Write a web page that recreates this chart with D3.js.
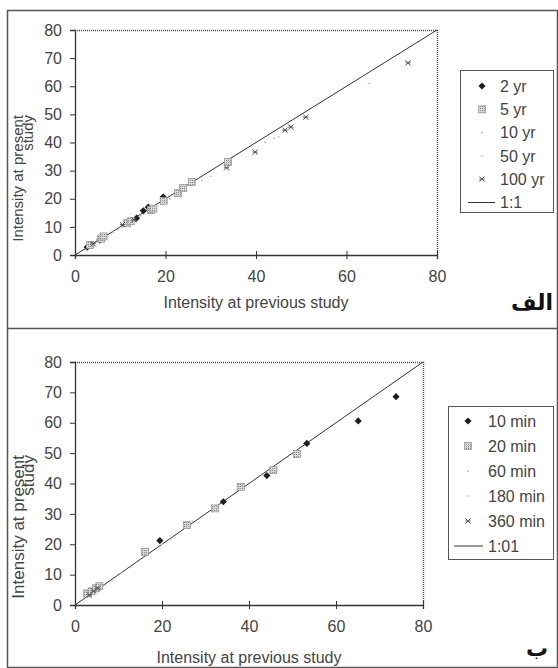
<!DOCTYPE html>
<html>
<head>
<meta charset="utf-8">
<script src="https://cdn.jsdelivr.net/npm/d3@7"></script>
<style>
  body { margin: 0; background: #fff; }
  svg { display: block; font-family: "Liberation Sans", Arial, sans-serif; }
</style>
</head>
<body>
<div id="chart"></div>
<script>
// values
const xTicks = [0, 20, 40, 60, 80];
const yTicks = [0, 10, 20, 30, 40, 50, 60, 70, 80];

// panel a (return periods)
const seriesA = ["2 yr", "5 yr", "10 yr", "50 yr", "100 yr"];
const yr2 = [[2.7, 2.8], [5.5, 5.3], [13.6, 13.1], [15.1, 15.7], [16.2, 17], [19.5, 20.6]];
const yr5 = [[3.3, 3.6], [5.8, 5.8], [6.3, 6.6], [11.5, 11.3], [12.3, 12], [16.8, 16], [17.3, 16.5],
             [19.6, 19.2], [22.8, 22], [23.9, 23.8], [25.8, 26], [33.8, 33.1]];
const yr10 = [[8.5, 8.2], [10.5, 10], [14.5, 14], [18, 17.5], [21, 20], [28, 26.5], [42, 40], [44, 41.5]];
const yr50 = [[9.5, 9], [20, 18], [30, 28], [45, 42], [65, 61]];
const yr100 = [[4, 4], [10.5, 10.8], [13, 12.5], [33.5, 31], [39.8, 36.6], [46.4, 44.4],
               [47.7, 45.5], [51, 49], [73.6, 68.3]];

// panel b (durations)
const seriesB = ["10 min", "20 min", "60 min", "180 min", "360 min"];
const min10 = [[19.5, 21.2], [34.1, 34], [44.1, 42.6], [53.3, 53.2], [65.1, 60.6], [73.8, 68.6]];
const min20 = [[2.8, 3.8], [3.8, 4.5], [4.8, 5.5], [5.6, 6.2], [16.1, 17.5], [25.7, 26.3],
               [32.2, 31.8], [38.1, 38.9], [45.6, 44.4], [51, 49.7]];
const min60 = [[7, 6.5], [10.7, 10.5], [20, 20], [27, 27.5]];
const min180 = [[8.5, 8], [13, 12.5], [22, 21.5]];
const min360 = [[3.3, 3.3], [4.3, 4.6], [5.2, 5.6]];

const W = 558, H = 668;
const svg = d3.select("#chart").append("svg").attr("width", W).attr("height", H);

// hatch for the grey square markers
const defs = svg.append("defs");
const pat = defs.append("pattern").attr("id", "hatch")
  .attr("width", 2).attr("height", 2).attr("patternUnits", "userSpaceOnUse");
pat.append("rect").attr("width", 2).attr("height", 2).attr("fill", "#d6d6d6");
pat.append("rect").attr("width", 1).attr("height", 1).attr("fill", "#8a8a8a");

// outer frame of the two cells
svg.append("rect").attr("x", 7.5).attr("y", 10.5).attr("width", 550).attr("height", 657)
  .attr("fill", "none").attr("stroke", "#555").attr("stroke-width", 1.5);
svg.append("line").attr("x1", 7).attr("x2", 558).attr("y1", 328.5).attr("y2", 328.5)
  .attr("stroke", "#555").attr("stroke-width", 1.5);

const styles = ["diamond", "square", "dot", "dash", "times"];

function drawMarker(g, kind, x, y) {
  if (kind === "diamond") {
    const s = 3.6;
    g.append("path").attr("d", `M${x},${y - s}L${x + s},${y}L${x},${y + s}L${x - s},${y}Z`)
      .attr("fill", "#1e1e1e");
  } else if (kind === "square") {
    g.append("rect").attr("x", x - 3.5).attr("y", y - 3.5).attr("width", 7).attr("height", 7)
      .attr("fill", "url(#hatch)").attr("stroke", "#9a9a9a").attr("stroke-width", 0.8);
  } else if (kind === "dot") {
    g.append("circle").attr("cx", x).attr("cy", y).attr("r", 1).attr("fill", "#bdbdbd");
  } else if (kind === "dash") {
    g.append("line").attr("x1", x - 1.5).attr("x2", x + 1.5).attr("y1", y).attr("y2", y)
      .attr("stroke", "#c4c4c4").attr("stroke-width", 1);
  } else {
    const s = 2.6;
    g.append("path")
      .attr("d", `M${x - s},${y - s}L${x + s},${y + s}M${x - s},${y + s}L${x + s},${y - s}M${x - s},${y}L${x + s},${y}`)
      .attr("stroke", "#555").attr("stroke-width", 1).attr("fill", "none");
  }
}

function panel(cfg) {
  const x = d3.scaleLinear().domain([0, 80]).range([cfg.x0, cfg.x1]);
  const y = d3.scaleLinear().domain([0, 80]).range([cfg.y0, cfg.y1]);
  const g = svg.append("g");

  // plot area border (dotted)
  g.append("path")
    .attr("d", `M${x(0)},${y(80) + 0.5}H${x(80) + 0.5}V${y(0)}`)
    .attr("fill", "none").attr("stroke", "#444").attr("stroke-width", 1.4)
    .attr("stroke-dasharray", "1,1");

  // axes
  const ya = g.append("g").attr("transform", `translate(${x(0)},0)`)
    .call(d3.axisLeft(y).tickValues(yTicks).tickSize(5).tickPadding(8).tickFormat(d3.format("d")));
  const xa = g.append("g").attr("transform", `translate(0,${y(0)})`)
    .call(d3.axisBottom(x).tickValues(xTicks).tickSize(4).tickPadding(12).tickFormat(d3.format("d")));
  xa.selectAll(".tick line").attr("y1", -4);
  [ya, xa].forEach(a => {
    a.select(".domain").attr("stroke", "#333").attr("stroke-width", 1.3);
    a.selectAll(".tick line").attr("stroke", "#333");
    a.selectAll("text").attr("font-size", 16).attr("fill", "#444")
      .attr("font-family", "Liberation Sans, Arial, sans-serif");
  });

  // 1:1 line
  g.append("line").attr("x1", x(0)).attr("y1", y(0)).attr("x2", x(80)).attr("y2", y(80))
    .attr("stroke", "#333").attr("stroke-width", 1);

  // points
  cfg.data.forEach((pts, i) => {
    pts.forEach(p => drawMarker(g, styles[i], x(p[0]), y(p[1])));
  });

  // axis titles
  g.append("text").attr("x", (cfg.x0 + cfg.x1) / 2).attr("y", cfg.xtY)
    .attr("text-anchor", "middle").attr("font-size", 16).attr("fill", "#444")
    .text("Intensity at previous study");
  g.append("text").attr("transform", `translate(${cfg.ytX1},${cfg.ytEnd}) rotate(-90)`)
    .attr("text-anchor", "end").attr("font-size", cfg.ytSize).attr("fill", "#444")
    .text("Intensity at present");
  g.append("text").attr("transform", `translate(${cfg.ytX2},${cfg.ytEnd}) rotate(-90)`)
    .attr("text-anchor", "end").attr("font-size", cfg.ytSize).attr("fill", "#444")
    .text("study");

  // legend
  const L = cfg.legend;
  g.append("rect").attr("x", L.x + 0.5).attr("y", L.y + 0.5).attr("width", L.w).attr("height", L.h)
    .attr("fill", "#fff").attr("stroke", "#555").attr("stroke-width", 1);
  cfg.names.concat([cfg.lineName]).forEach((name, i) => {
    const cy = L.first + i * L.step;
    if (i < cfg.names.length) drawMarker(g, styles[i], L.mx, cy);
    else g.append("line").attr("x1", L.lx0).attr("x2", L.lx1).attr("y1", cy).attr("y2", cy)
      .attr("stroke", "#333").attr("stroke-width", 1);
    g.append("text").attr("x", L.tx).attr("y", cy).attr("dy", "0.35em")
      .attr("font-size", 16).attr("fill", "#444").text(name);
  });

  // panel letter
  g.append("text").attr("x", cfg.tag.x).attr("y", cfg.tag.y).attr("text-anchor", "middle")
    .attr("font-family", "DejaVu Sans, sans-serif").attr("font-weight", "bold")
    .attr("font-size", 22).attr("fill", "#111").text(cfg.tag.t);
}

panel({
  x0: 75, x1: 437, y0: 255, y1: 30,
  data: [yr2, yr5, yr10, yr50, yr100], names: seriesA, lineName: "1:1",
  xtY: 308, ytX1: 23, ytX2: 33, ytEnd: 115, ytSize: 15,
  legend: { x: 460, y: 70, w: 93, h: 142, first: 86, step: 23.3, mx: 482, tx: 500, lx0: 468, lx1: 495 },
  tag: { x: 532, y: 310, t: "الف" }
});

panel({
  x0: 75, x1: 423, y0: 605, y1: 362,
  data: [min10, min20, min60, min180, min360], names: seriesB, lineName: "1:01",
  xtY: 663, ytX1: 24, ytX2: 34, ytEnd: 455, ytSize: 17,
  legend: { x: 448, y: 406, w: 105, h: 153, first: 421, step: 25, mx: 468, tx: 488, lx0: 454, lx1: 483 },
  tag: { x: 537, y: 656, t: "ب" }
});
</script>
</body>
</html>
